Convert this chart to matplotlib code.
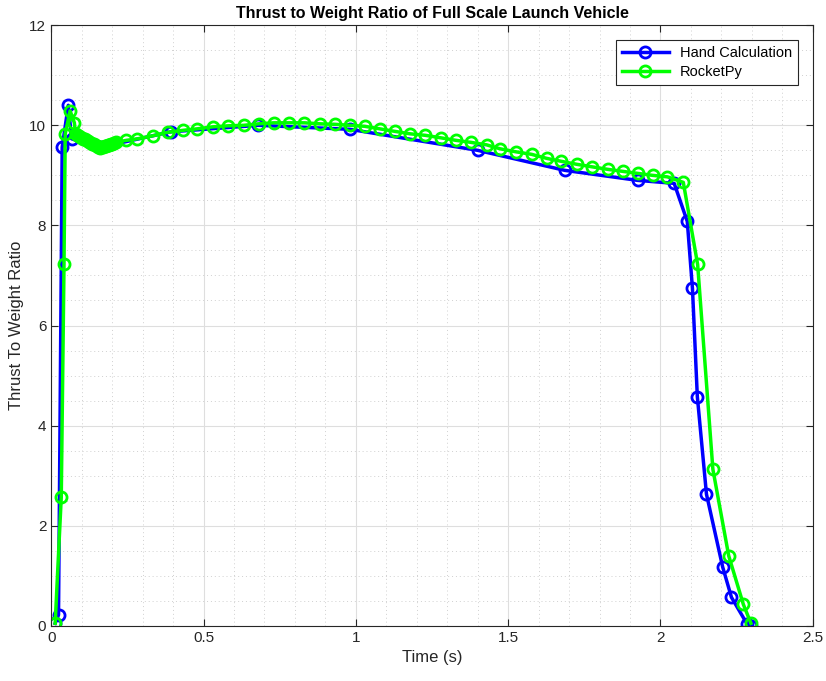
import matplotlib.pyplot as plt
from matplotlib.ticker import MultipleLocator

plt.rcParams['font.family'] = ['Liberation Sans', 'DejaVu Sans']

# Hand calculation (time s, thrust-to-weight)
hand_t = [0.013, 0.024, 0.036, 0.056, 0.067, 0.160, 0.393, 0.680, 0.980, 1.400,
          1.686, 1.925, 2.045, 2.088, 2.105, 2.121, 2.151, 2.204, 2.233, 2.284, 2.297]
hand_tw = [0.05, 0.22, 9.56, 10.40, 9.73, 9.56, 9.87, 10.00, 9.92, 9.50,
           9.10, 8.90, 8.84, 8.08, 6.74, 4.58, 2.63, 1.18, 0.57, 0.04, 0.00]

# RocketPy simulation
rp_t = [0.013, 0.033, 0.042, 0.046, 0.062, 0.076,
        0.080, 0.085, 0.090, 0.095, 0.100, 0.105, 0.110, 0.115, 0.120, 0.125,
        0.130, 0.135, 0.140, 0.145, 0.150, 0.155, 0.160, 0.165, 0.170, 0.175,
        0.180, 0.185, 0.190, 0.195, 0.200, 0.205, 0.214,
        0.247, 0.283, 0.333, 0.382, 0.433, 0.480, 0.531, 0.581, 0.632, 0.681,
        0.730, 0.779, 0.831, 0.882, 0.931, 0.980, 1.029, 1.078, 1.127, 1.178,
        1.228, 1.279, 1.328, 1.377, 1.429, 1.474, 1.526, 1.577, 1.626, 1.675,
        1.726, 1.776, 1.827, 1.876, 1.925, 1.974, 2.023, 2.075, 2.122, 2.172,
        2.224, 2.272, 2.297]
rp_tw = [0.05, 2.57, 7.22, 9.83, 10.29, 10.05,
         9.82, 9.80, 9.78, 9.77, 9.75, 9.73, 9.72, 9.70, 9.68, 9.67,
         9.65, 9.63, 9.62, 9.60, 9.58, 9.57, 9.55, 9.56, 9.57, 9.58,
         9.59, 9.60, 9.61, 9.62, 9.63, 9.64, 9.66,
         9.70, 9.73, 9.79, 9.86, 9.90, 9.93, 9.97, 9.99, 10.00, 10.03,
         10.05, 10.05, 10.05, 10.03, 10.02, 10.00, 9.98, 9.93, 9.88, 9.83,
         9.80, 9.75, 9.70, 9.66, 9.61, 9.53, 9.47, 9.42, 9.34, 9.28,
         9.22, 9.17, 9.12, 9.08, 9.04, 9.00, 8.97, 8.86, 7.22, 3.13,
         1.40, 0.43, 0.05]

fig = plt.figure(figsize=(8.26, 6.81), dpi=100)
ax = fig.add_axes([0.062, 0.081, 0.922, 0.882])

ax.plot(hand_t, hand_tw, '-o', color='#0000ff', lw=2.5, ms=8, mew=2,
        mfc='none', label='Hand Calculation')
ax.plot(rp_t, rp_tw, '-o', color='#00ff00', lw=2.5, ms=8, mew=2,
        mfc='none', label='RocketPy')

ax.set_xlim(0, 2.5)
ax.set_ylim(0, 12)
ax.xaxis.set_major_locator(MultipleLocator(0.5))
ax.xaxis.set_minor_locator(MultipleLocator(0.1))
ax.yaxis.set_major_locator(MultipleLocator(2))
ax.yaxis.set_minor_locator(MultipleLocator(0.5))
ax.xaxis.set_major_formatter(plt.FuncFormatter(lambda v, p: f'{v:g}'))

ax.grid(which='major', color='#dedede', lw=0.8)
ax.grid(which='minor', color='#d0d0d0', lw=0.7, ls=(0, (1, 3)))
ax.set_axisbelow(True)
ax.tick_params(which='both', direction='in', top=True, right=True,
               labelsize=11, colors='#262626')
ax.tick_params(which='major', length=5)
ax.tick_params(which='minor', length=0)
for s in ax.spines.values():
    s.set_color('#262626')
    s.set_linewidth(0.8)

ax.set_xlabel('Time (s)', fontsize=12, color='#262626')
ax.set_ylabel('Thrust To Weight Ratio', fontsize=12, color='#262626')
ax.set_title('Thrust to Weight Ratio of Full Scale Launch Vehicle',
             fontsize=11.5, fontweight='bold', pad=5)

leg = ax.legend(loc='upper right', fontsize=10.5, fancybox=False,
                framealpha=1, edgecolor='#262626', handlelength=3.2,
                borderaxespad=1.0, labelspacing=0.35)
leg.get_frame().set_linewidth(0.8)

fig.savefig('out.png', dpi=100)
